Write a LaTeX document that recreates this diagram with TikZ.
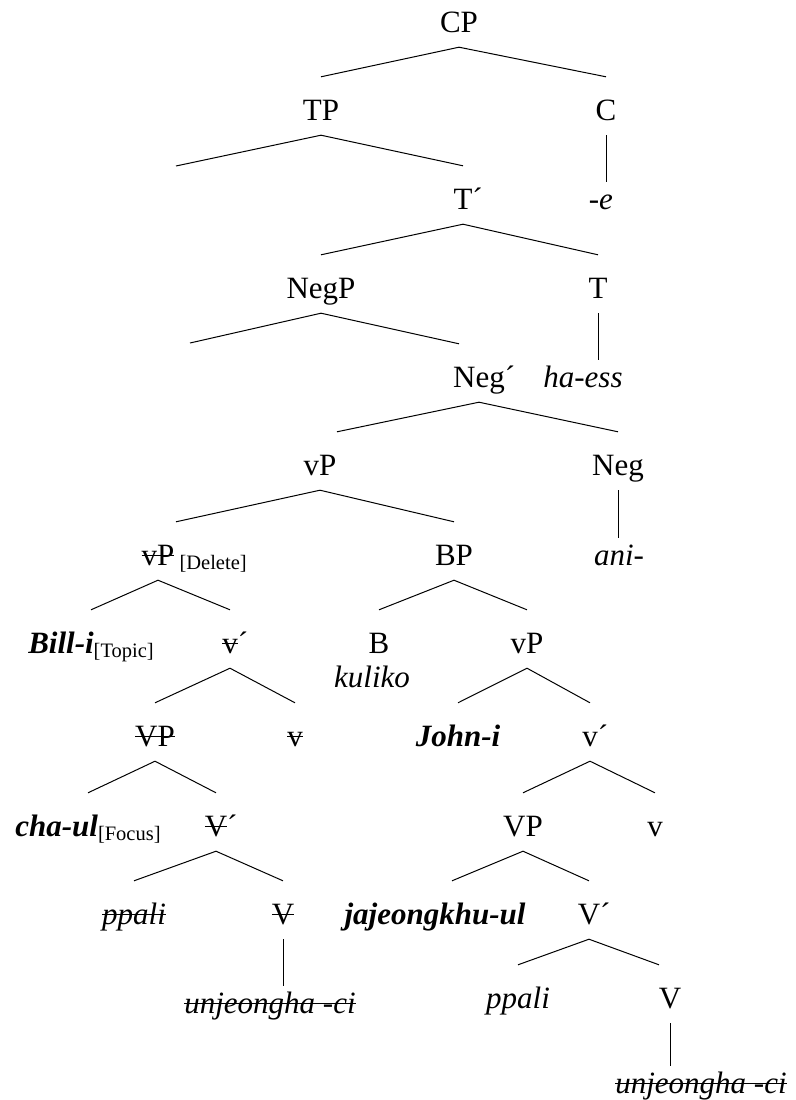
\documentclass[tikz,border=0pt]{standalone}
\usepackage{fontspec}
\setmainfont{Liberation Serif}
\newsavebox{\strkbox}
\newcommand{\strk}[1]{\sbox{\strkbox}{#1}\rlap{\rule[0.29em]{\wd\strkbox}{1.2pt}}\usebox{\strkbox}}
\newcommand{\feat}[1]{\raisebox{-4pt}{\fontsize{20.5}{22}\selectfont[#1]}}
\newcommand{\prm}{\rlap{´}}
\newcommand{\bi}[1]{\textbf{\textit{#1}}}

\begin{document}
\begin{tikzpicture}[x=1pt, y=-1pt,
  cat/.style={anchor=base, inner sep=0pt, text height=43pt, text depth=15pt,
    font=\fontsize{31}{37}\selectfont},
  leaf/.style={cat, text height=27pt},
  branch/.style={line width=1pt, line join=miter}
]
\useasboundingbox (0,0) rectangle (795,1100);

% upper spine
\node[cat] (cp) at (459,32) {CP};
\node[cat] (tp) at (321,120) {TP};
\node[cat] (c) at (606,120) {C};
\coordinate (tpspec) at (176,166);
\node[cat] (tbar) at (463,209) {T\prm};
\node[leaf] (e) at (606,209) {\llap{-}\textit{e}};
\node[cat] (negp) at (321,298) {NegP};
\node[cat] (t) at (598,298) {T};
\coordinate (negpspec) at (190,343);
\node[cat] (negbar) at (479,387) {Neg\prm};
\node[leaf] (haess) at (583,387) {\textit{ha-ess}};
\node[cat] (vp) at (320,475) {vP};
\node[cat] (neg) at (618,475) {Neg};

% deleted vP
\node[cat] (vpdel) at (158,565) {\strk{vP}\rlap{\,\feat{Delete}}};
\node[cat] (billi) at (91,653) {\bi{Bill-i}\feat{Topic}};
\node[cat] (vbara) at (230,653) {\strk{v}\prm};
\node[cat] (vpst) at (155,746) {\strk{VP}};
\node[cat] (va) at (295,746) {\strk{v}};
\node[cat] (chaul) at (88,836) {\bi{cha-ul}\feat{Focus}};
\node[cat] (vbarc) at (216,836) {\strk{V}\prm};
\node[cat] (ppalia) at (134,924) {\strk{\textit{ppali}}};
\node[cat] (vheada) at (283,924) {\strk{V}};
\node[leaf] (unja) at (270,1013) {\strk{\textit{unjeongha -ci}}};

% BP
\node[cat] (bp) at (454,565) {BP};
\node[leaf] (ani) at (619,565) {\textit{ani-}};
\node[cat] (b) at (379,653) {B};
\node[cat] (kuliko) at (372,687) {\textit{kuliko}};
\node[cat] (vpb) at (527,653) {vP};
\node[cat] (johni) at (458,746) {\bi{John-i}};
\node[cat] (vbarb) at (590,746) {v\prm};
\node[cat] (vpc) at (523,836) {VP};
\node[cat] (vb) at (655,836) {v};
\node[cat] (jaje) at (435,924) {\bi{jajeongkhu-ul}};
\node[cat] (vbard) at (589,924) {V\prm};
\node[cat] (ppalib) at (518,1008) {\textit{ppali}};
\node[cat] (vheadb) at (670,1008) {V};
\node[leaf] (unjb) at (701,1093) {\strk{\textit{unjeongha -ci}}};

% branches
\draw[branch] (tp.north) -- (cp.south) -- (c.north);
\draw[branch] (tpspec) -- (tp.south) -- (tbar.north);
\draw[branch] (c.south) -- (c.south |- e.north);
\draw[branch] (negp.north) -- (tbar.south) -- (t.north);
\draw[branch] (negpspec) -- (negp.south) -- ([xshift=-20pt]negbar.north);
\draw[branch] (t.south) -- (t.south |- haess.north);
\draw[branch] ([xshift=17pt]vp.north) -- (negbar.south) -- (neg.north);
\draw[branch] ([xshift=18pt]vpdel.north) -- (vp.south) -- (bp.north);
\draw[branch] (neg.south) -- (neg.south |- ani.north);
\draw[branch] (billi.north) -- (vpdel.south) -- (vbara.north);
\draw[branch] (vpst.north) -- (vbara.south) -- (va.north);
\draw[branch] (chaul.north) -- (vpst.south) -- (vbarc.north);
\draw[branch] (ppalia.north) -- (vbarc.south) -- (vheada.north);
\draw[branch] (vheada.south) -- (vheada.south |- unja.north);
\draw[branch] (b.north) -- (bp.south) -- (vpb.north);
\draw[branch] (johni.north) -- (vpb.south) -- (vbarb.north);
\draw[branch] (vpc.north) -- (vbarb.south) -- (vb.north);
\draw[branch] ([xshift=17pt]jaje.north) -- (vpc.south) -- (vbard.north);
\draw[branch] (ppalib.north) -- (vbard.south) -- ([xshift=-11pt]vheadb.north);
\draw[branch] (vheadb.south) -- (vheadb.south |- unjb.north);
\end{tikzpicture}
\end{document}
